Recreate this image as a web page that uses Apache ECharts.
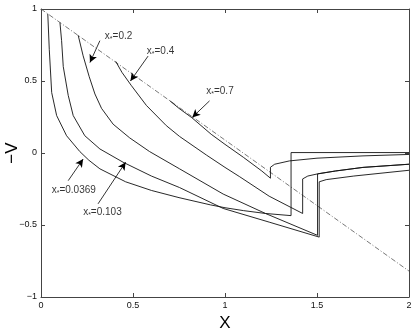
<!DOCTYPE html>
<html>
<head>
<meta charset="utf-8">
<script src="https://cdn.jsdelivr.net/npm/echarts@6/dist/echarts.min.js"></script>
<style>
html, body { margin: 0; padding: 0; background: #fff; }
#myChart { width: 415px; height: 332px; }
</style>
</head>
<body>
<div id="myChart"></div>
<script>
// curves: [x, -v]; a jump is two points with the same x
const curve0369 = [[0.0369, 0.966], [0.045, 0.72], [0.058, 0.42], [0.085, 0.26], [0.139, 0.12], [0.211, 0.01],
  [0.26, -0.05], [0.32, -0.11], [0.46, -0.2], [0.6, -0.26], [0.75, -0.31], [0.92, -0.36], [1.0, -0.38],
  [1.1, -0.4], [1.22, -0.42], [1.359, -0.435], [1.359, 0.003], [2, 0.003]]
const curve103 = [[0.103, 0.906], [0.112, 0.78], [0.121, 0.6], [0.148, 0.4], [0.175, 0.26], [0.238, 0.12],
  [0.32, 0.028], [0.446, -0.064], [0.6, -0.16], [0.753, -0.24], [0.99, -0.385], [1.24, -0.48],
  [1.512, -0.584], [1.512, -0.2], [1.55, -0.185], [1.7, -0.16], [2, -0.12]]
const curve2 = [[0.202, 0.818], [0.229, 0.675], [0.262, 0.53], [0.293, 0.41], [0.329, 0.31], [0.392, 0.2],
  [0.482, 0.105], [0.59, 0.01], [0.753, -0.11], [0.99, -0.285], [1.22, -0.42], [1.503, -0.572],
  [1.503, -0.145], [1.6, -0.125], [1.75, -0.1], [2, -0.078]]
const curve4 = [[0.406, 0.636], [0.44, 0.56], [0.49, 0.47], [0.573, 0.33], [0.681, 0.19], [0.753, 0.115],
  [0.9, -0.015], [1.0, -0.1], [1.08, -0.165], [1.24, -0.3], [1.422, -0.42], [1.422, -0.18],
  [1.45, -0.16], [1.503, -0.145], [1.6, -0.125], [1.75, -0.1], [2, -0.078]]
const curve7 = [[0.7, 0.363], [0.75, 0.31], [0.82, 0.245], [0.925, 0.13], [1.0, 0.06], [1.1, -0.03],
  [1.2, -0.125], [1.247, -0.175], [1.247, -0.099], [1.27, -0.078], [1.35, -0.055], [1.5, -0.036],
  [1.75, -0.02], [2, -0.01]]
const dashLine = [[0, 1], [2, -0.82]]

// annotations: label anchor, arrow tail, arrow tip
const labelText = ['0.2', '0.4', '0.7', '0.0369', '0.103']
const labelPos = [[0.347, 0.81], [0.575, 0.708], [0.898, 0.431], [0.058, -0.256], [0.229, -0.41]]
const arrowTail = [[0.32, 0.78], [0.582, 0.673], [0.916, 0.362], [0.148, -0.192], [0.31, -0.353]]
const arrowTip = [[0.266, 0.628], [0.486, 0.5], [0.822, 0.247], [0.229, -0.042], [0.46, -0.064]]

const xTicks = [0, 0.5, 1, 1.5, 2]
const yTicks = [-1, -0.5, 0, 0.5, 1]

const myChart = echarts.init(document.getElementById('myChart'))

const fontFam = '"Liberation Sans", Arial, sans-serif'
const fmt = v => String(v).replace('-', '\u2212')
const axisCol = '#444'

const curveSeries = [curve0369, curve103, curve2, curve4, curve7].map(d => ({
  type: 'line',
  data: d,
  symbol: 'none',
  silent: true,
  lineStyle: { color: '#111', width: 0.9 }
}))

function makeAxis(pos, isX, main) {
  const t = isX ? xTicks : yTicks
  const ax = {
    type: 'value', position: pos, min: t[0], max: t[t.length - 1], interval: 0.5,
    axisLine: { onZero: false, lineStyle: { color: axisCol } },
    axisTick: { inside: true, length: 4, lineStyle: { color: axisCol } },
    axisLabel: { show: main, fontSize: 9, color: '#111', fontFamily: fontFam, margin: 4, formatter: fmt },
    splitLine: { show: false }
  }
  if (main) {
    ax.name = isX ? 'X' : '\u2212V'
    ax.nameLocation = 'middle'
    ax.nameGap = isX ? 15 : 20
    if (!isX) {
      ax.nameRotate = 90
      ax.nameMoveOverlap = false
    }
    ax.nameTextStyle = { fontSize: 17, color: '#000', fontFamily: fontFam }
  }
  return ax
}

const option = {
  animation: false,
  grid: { left: 41, right: 6, top: 9, bottom: 35, outerBoundsMode: 'none', containLabel: false },
  xAxis: [makeAxis('bottom', true, true), makeAxis('top', true, false)],
  yAxis: [makeAxis('left', false, true), makeAxis('right', false, false)],
  series: [
    {
      type: 'line',
      data: dashLine,
      symbol: 'none',
      silent: true,
      lineStyle: { color: '#555', width: 0.8, type: [5, 2, 1, 2] },
      markLine: {
        silent: true,
        symbol: ['none', 'arrow'],
        symbolSize: [6, 8],
        label: { show: false },
        lineStyle: { color: '#000', width: 0.8, type: 'solid' },
        data: arrowTail.map((t, i) => [{ coord: t }, { coord: arrowTip[i] }])
      }
    },
    ...curveSeries,
    {
      type: 'scatter',
      symbolSize: 0,
      silent: true,
      data: labelPos.map((p, i) => ({ value: p, name: labelText[i] })),
      label: {
        show: true,
        position: 'right',
        distance: 0,
        formatter: p => 'x{s|*}=' + p.name,
        fontSize: 10,
        color: '#000',
        fontFamily: fontFam,
        rich: { s: { fontSize: 7, padding: [6, 0, 0, 0], fontFamily: fontFam, color: '#000' } }
      }
    }
  ]
}

myChart.setOption(option)
</script>
</body>
</html>
